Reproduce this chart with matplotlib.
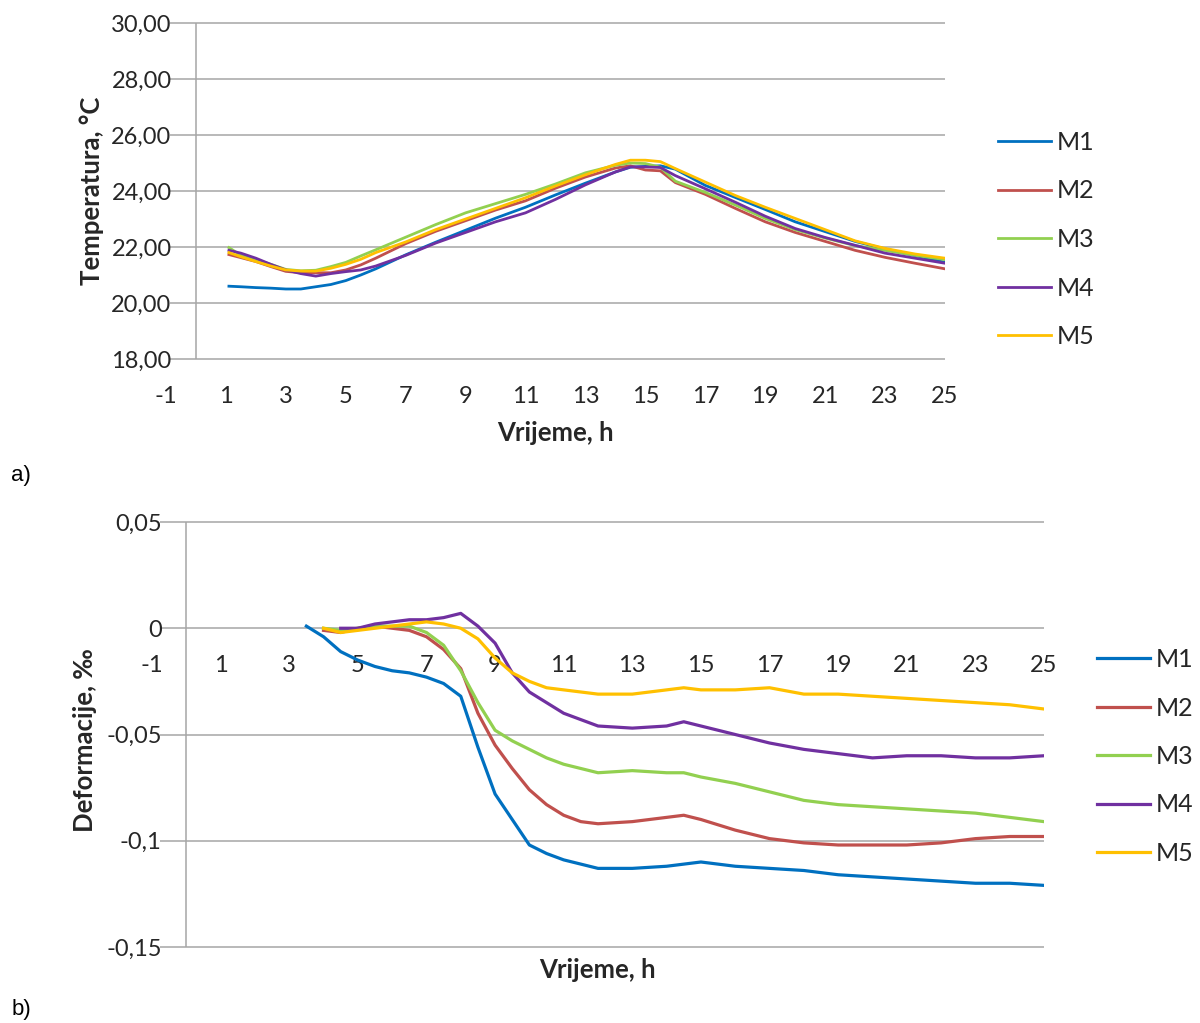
import numpy as np
import matplotlib
matplotlib.use("Agg")
import matplotlib.pyplot as plt

plt.rcParams['font.family'] = ['Lato', 'DejaVu Sans']

names = ['M1', 'M2', 'M3', 'M4', 'M5']
colors = ['#0070C0', '#C0504D', '#92D050', '#7030A0', '#FFC000']

# a) temperature, °C
hours_t = [1.1, 1.5, 2, 2.5, 3, 3.5, 4, 4.5, 5, 5.5, 6, 7, 8, 9, 10, 11, 12, 13,
           14, 14.5, 15, 15.5, 16, 17, 18, 19, 20, 21, 22, 23, 24, 25]
temp_m1 = [20.60, 20.58, 20.55, 20.53, 20.50, 20.50, 20.58, 20.66, 20.80, 21.00, 21.22,
           21.72, 22.17, 22.60, 23.03, 23.42, 23.86, 24.28, 24.68, 24.85, 24.88, 24.90,
           24.78, 24.20, 23.77, 23.34, 22.90, 22.55, 22.20, 21.93, 21.70, 21.45]
temp_m2 = [21.73, 21.62, 21.48, 21.30, 21.13, 21.08, 21.08, 21.08, 21.18, 21.36, 21.60,
           22.12, 22.56, 22.94, 23.32, 23.65, 24.10, 24.50, 24.82, 24.90, 24.75, 24.72,
           24.30, 23.88, 23.38, 22.90, 22.52, 22.20, 21.88, 21.63, 21.42, 21.22]
temp_m3 = [21.98, 21.70, 21.55, 21.38, 21.20, 21.15, 21.17, 21.30, 21.45, 21.68, 21.90,
           22.35, 22.80, 23.22, 23.55, 23.88, 24.25, 24.65, 24.92, 25.00, 24.98, 24.85,
           24.35, 23.95, 23.50, 23.02, 22.62, 22.32, 22.05, 21.88, 21.70, 21.55]
temp_m4 = [21.88, 21.78, 21.60, 21.38, 21.18, 21.05, 20.96, 21.05, 21.12, 21.18, 21.32,
           21.70, 22.14, 22.52, 22.90, 23.22, 23.70, 24.22, 24.68, 24.86, 24.86, 24.84,
           24.55, 24.08, 23.60, 23.10, 22.66, 22.34, 22.06, 21.78, 21.60, 21.42]
temp_m5 = [21.80, 21.65, 21.48, 21.32, 21.18, 21.14, 21.14, 21.24, 21.38, 21.56, 21.80,
           22.18, 22.62, 23.00, 23.38, 23.76, 24.18, 24.58, 24.95, 25.10, 25.10, 25.05,
           24.80, 24.32, 23.84, 23.42, 23.02, 22.62, 22.22, 21.95, 21.75, 21.60]

# b) deformation, ‰
nan = np.nan
hours_d = [3.5, 4, 4.5, 5, 5.5, 6, 6.5, 7, 7.5, 8, 8.5, 9, 9.5, 10, 10.5, 11, 11.5, 12,
           13, 14, 14.5, 15, 16, 17, 18, 19, 20, 21, 22, 23, 24, 25]
def_m1 = [0.001, -0.004, -0.011, -0.015, -0.018, -0.020, -0.021, -0.023, -0.026, -0.032,
          -0.056, -0.078, -0.090, -0.102, -0.106, -0.109, -0.111, -0.113, -0.113, -0.112,
          -0.111, -0.110, -0.112, -0.113, -0.114, -0.116, -0.117, -0.118, -0.119, -0.120,
          -0.120, -0.121]
def_m2 = [nan, -0.001, -0.002, 0.000, 0.001, 0.000, -0.001, -0.004, -0.010, -0.019,
          -0.040, -0.055, -0.066, -0.076, -0.083, -0.088, -0.091, -0.092, -0.091, -0.089,
          -0.088, -0.090, -0.095, -0.099, -0.101, -0.102, -0.102, -0.102, -0.101, -0.099,
          -0.098, -0.098]
def_m3 = [nan, 0.000, -0.001, 0.000, 0.001, 0.001, 0.001, -0.002, -0.008, -0.020,
          -0.035, -0.048, -0.053, -0.057, -0.061, -0.064, -0.066, -0.068, -0.067, -0.068,
          -0.068, -0.070, -0.073, -0.077, -0.081, -0.083, -0.084, -0.085, -0.086, -0.087,
          -0.089, -0.091]
def_m4 = [nan, nan, 0.000, 0.000, 0.002, 0.003, 0.004, 0.004, 0.005, 0.007,
          0.001, -0.007, -0.021, -0.030, -0.035, -0.040, -0.043, -0.046, -0.047, -0.046,
          -0.044, -0.046, -0.050, -0.054, -0.057, -0.059, -0.061, -0.060, -0.060, -0.061,
          -0.061, -0.060]
def_m5 = [nan, 0.000, -0.002, -0.001, 0.000, 0.001, 0.002, 0.003, 0.002, 0.000,
          -0.005, -0.014, -0.021, -0.025, -0.028, -0.029, -0.030, -0.031, -0.031, -0.029,
          -0.028, -0.029, -0.029, -0.028, -0.031, -0.031, -0.032, -0.033, -0.034, -0.035,
          -0.036, -0.038]

x_ticks = list(range(-1, 26, 2))
yt_top = [18, 20, 22, 24, 26, 28, 30]
yt_top_labels = ['18,00', '20,00', '22,00', '24,00', '26,00', '28,00', '30,00']
yt_bot = [-0.15, -0.1, -0.05, 0, 0.05]
yt_bot_labels = ['-0,15', '-0,1', '-0,05', '0', '0,05']

grid_c = '#A6A6A6'
txt_c = '#262626'
W, H = 1200, 1023
fig = plt.figure(figsize=(12, 10.23), dpi=100)


def px_axes(x0, x1, y0, y1):
    return fig.add_axes([x0 / W, 1 - y1 / H, (x1 - x0) / W, (y1 - y0) / H])


def style(ax, yticks, ylabels, grid_start, pad_y):
    for s in ax.spines.values():
        s.set_visible(False)
    ax.set_xlim(-1, 25)
    ax.set_xticks(x_ticks)
    ax.set_xticklabels([str(t) for t in x_ticks])
    ax.set_yticks(yticks)
    ax.set_yticklabels(ylabels)
    ax.set_ylim(yticks[0], yticks[-1])
    ax.tick_params(axis='both', length=0, labelsize=17, colors=txt_c)
    ax.tick_params(axis='y', pad=pad_y)
    ax.tick_params(axis='x', pad=19.5)
    ax.hlines(yticks, grid_start, 25, colors=grid_c, lw=1.1, zorder=1, clip_on=False)
    ax.vlines(0, yticks[0], yticks[-1], colors=grid_c, lw=1.1, zorder=1)


def legend(ax, x, y):
    ax.legend(loc='upper left', bbox_to_anchor=(x / W, 1 - y / H),
              bbox_transform=fig.transFigure, frameon=False, fontsize=18,
              handlelength=2.1, handletextpad=0.25, labelspacing=1.02,
              borderpad=0, borderaxespad=0, labelcolor=txt_c)


# top panel
ax1 = px_axes(166, 945, 23, 359)
style(ax1, yt_top, yt_top_labels, -0.87, -4)
for vals, c, n in zip([temp_m1, temp_m2, temp_m3, temp_m4, temp_m5], colors, names):
    ax1.plot(hours_t, vals, color=c, lw=2.0, label=n, zorder=3)
legend(ax1, 998, 131)
fig.text(555 / W, 1 - 433 / H, 'Vrijeme, h', ha='center', va='center',
         fontsize=18.5, fontweight='bold', color=txt_c)
fig.text(92 / W, 1 - 191 / H, 'Temperatura, °C', ha='center', va='center',
         rotation=90, fontsize=18.5, fontweight='bold', color=txt_c)

# bottom panel
ax2 = px_axes(152, 1044, 522, 947)
style(ax2, yt_bot, yt_bot_labels, -0.77, -7)
ax2.spines['bottom'].set_position(('data', 0))
for vals, c, n in zip([def_m1, def_m2, def_m3, def_m4, def_m5], colors, names):
    ax2.plot(hours_d, vals, color=c, lw=2.3, label=n, zorder=3)
legend(ax2, 1097, 648)
fig.text(597 / W, 1 - 970 / H, 'Vrijeme, h', ha='center', va='center',
         fontsize=18.5, fontweight='bold', color=txt_c)
fig.text(85 / W, 1 - 740 / H, 'Deformacije, ‰', ha='center', va='center',
         rotation=90, fontsize=18.5, fontweight='bold', color=txt_c)

fig.text(21 / W, 1 - 475 / H, 'a)', ha='center', va='center', fontsize=16,
         family='Liberation Sans')
fig.text(21 / W, 1 - 1010 / H, 'b)', ha='center', va='center', fontsize=16,
         family='Liberation Sans')

fig.savefig('out.png', dpi=100)
